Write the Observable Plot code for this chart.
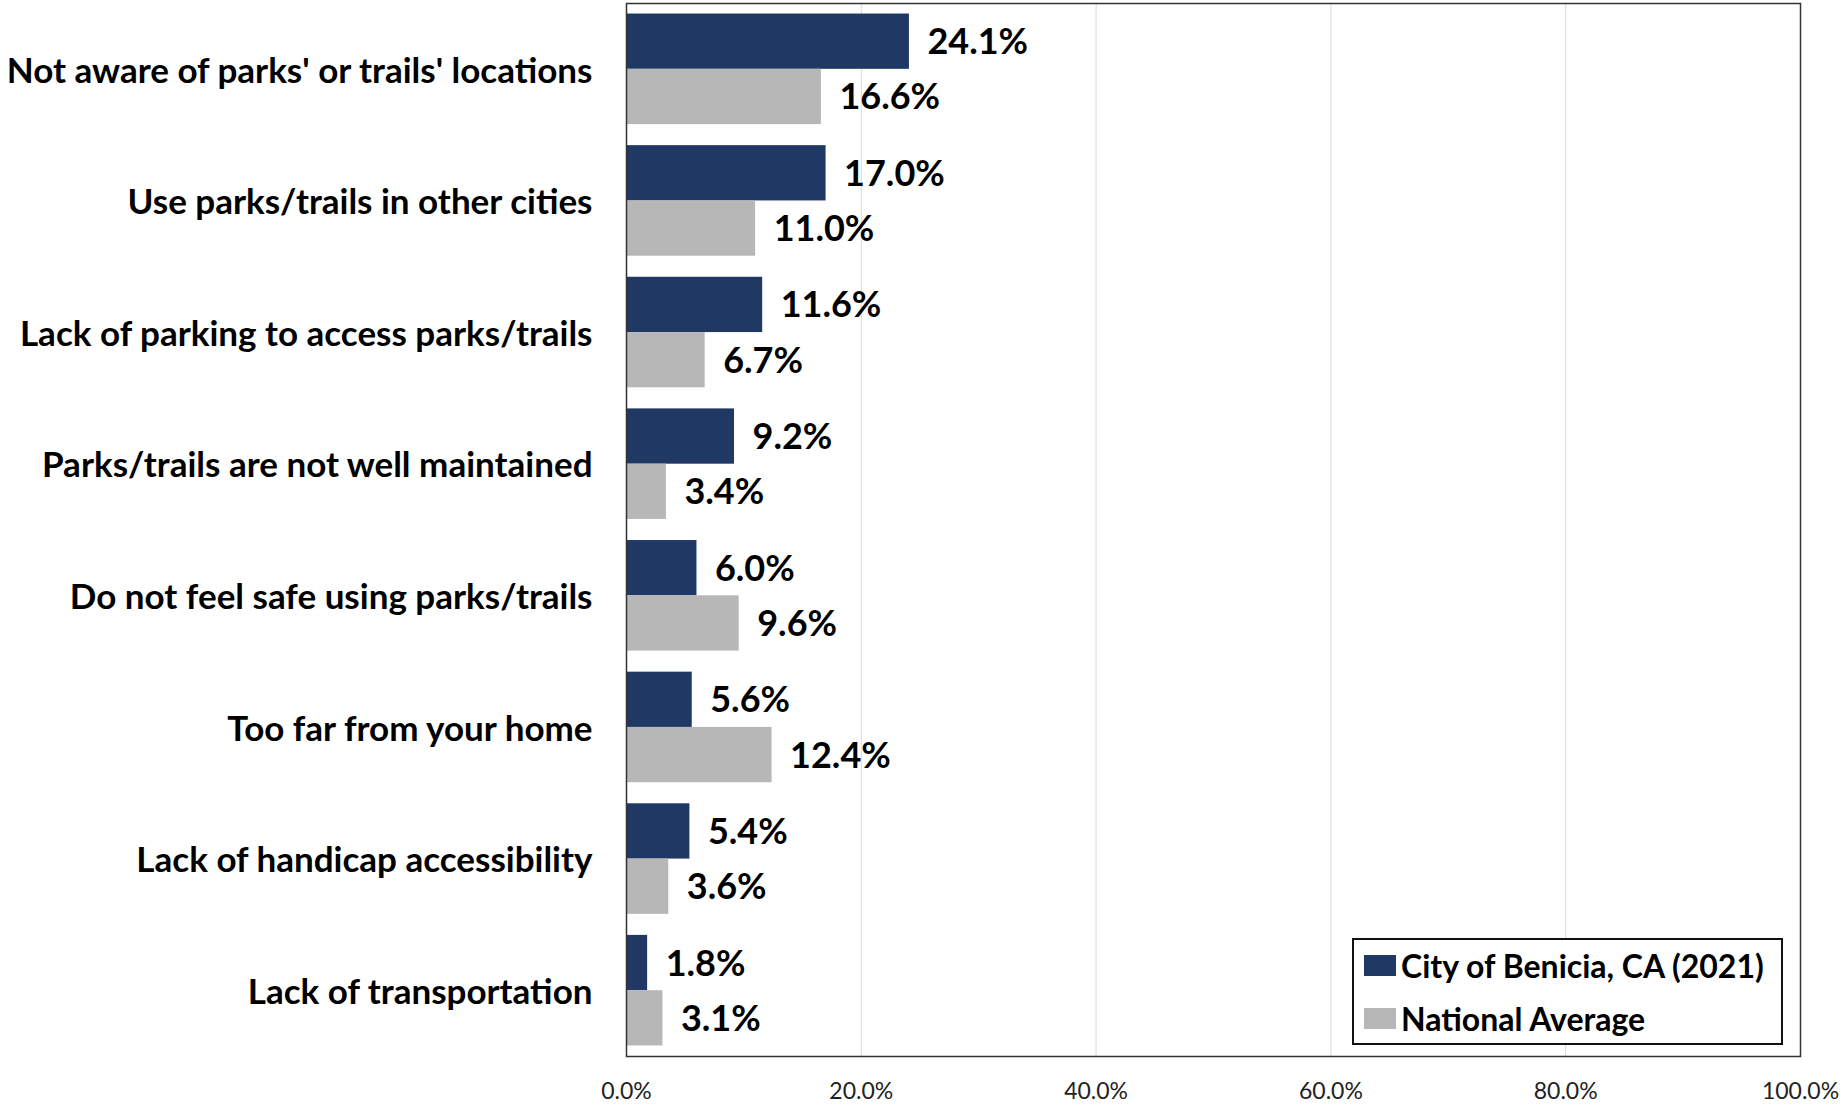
<!DOCTYPE html>
<html>
<head>
<meta charset="utf-8">
<script src="https://cdn.jsdelivr.net/npm/d3@7"></script>
<script src="https://cdn.jsdelivr.net/npm/@observablehq/plot@0.6"></script>
<style>
  html, body { margin: 0; padding: 0; background: #fff; }
  #wrap { position: relative; width: 1843px; height: 1106px; font-family: Lato, "Open Sans", sans-serif; }
  #legend { position: absolute; left: 1352px; top: 938px; width: 427px; height: 103px; border: 2px solid #111; background: #fff; box-sizing: content-box; }
  .row { position: absolute; left: 10px; display: flex; align-items: center; font-weight: bold; font-size: 32px; color: #000; white-space: nowrap; }
  .sw { width: 32px; height: 21px; margin-right: 5px; }
</style>
</head>
<body>
<div id="wrap"></div>
<script>
const categories = [
  "Not aware of parks' or trails' locations",
  "Use parks/trails in other cities",
  "Lack of parking to access parks/trails",
  "Parks/trails are not well maintained",
  "Do not feel safe using parks/trails",
  "Too far from your home",
  "Lack of handicap accessibility",
  "Lack of transportation"
];
const benicia = [24.1, 17.0, 11.6, 9.2, 6.0, 5.6, 5.4, 1.8];
const national = [16.6, 11.0, 6.7, 3.4, 9.6, 12.4, 3.6, 3.1];
const seriesNames = ["City of Benicia, CA (2021)", "National Average"];
const seriesColors = ["#1F3864", "#B7B7B7"];
const xTicks = [0, 20, 40, 60, 80, 100];

const half = 0.42; // half of group thickness in category units
const data = categories.flatMap((c, i) => [
  {idx: i, series: seriesNames[0], value: benicia[i], y1: i - half, y2: i},
  {idx: i, series: seriesNames[1], value: national[i], y1: i, y2: i + half}
]);

const chart = Plot.plot({
  width: 1843,
  height: 1106,
  marginLeft: 626,
  marginRight: 43,
  marginTop: 3,
  marginBottom: 50,
  style: {fontFamily: "Lato, 'Open Sans', sans-serif", background: "#fff", color: "#000"},
  x: {domain: [0, 100], label: null},
  y: {domain: [-0.5, categories.length - 0.5], reverse: true, label: null},
  color: {domain: seriesNames, range: seriesColors},
  marks: [
    Plot.gridX(xTicks, {stroke: "#d9d9d9", strokeOpacity: 1, strokeWidth: 1}),
    Plot.rectX(data, {x1: 0, x2: "value", y1: "y1", y2: "y2", fill: "series"}),
    Plot.text(data, {
      x: "value",
      y: d => (d.y1 + d.y2) / 2,
      text: d => d.value.toFixed(1) + "%",
      textAnchor: "start",
      dx: 18,
      dy: 1,
      fontWeight: "bold",
      fontSize: 36,
      fill: "#000"
    }),
    Plot.frame({stroke: "#333", strokeWidth: 1.5}),
    Plot.axisX(xTicks, {
      tickFormat: d => d.toFixed(1) + "%",
      tickSize: 0,
      tickPadding: 26,
      fontSize: 23,
      fill: "#222",
      label: null
    }),
    Plot.axisY(d3.range(categories.length), {
      tickFormat: i => categories[i],
      tickSize: 0,
      tickPadding: 34,
      fontSize: 35,
      fontWeight: "bold",
      fill: "#000",
      dy: 2,
      label: null
    })
  ]
});

const wrap = document.getElementById("wrap");
wrap.appendChild(chart);

const legend = document.createElement("div");
legend.id = "legend";
seriesNames.forEach((name, i) => {
  const row = document.createElement("div");
  row.className = "row";
  row.style.top = (i === 0 ? 6 : 59) + "px";
  const sw = document.createElement("span");
  sw.className = "sw";
  sw.style.background = seriesColors[i];
  const t = document.createElement("span");
  t.textContent = name;
  row.appendChild(sw);
  row.appendChild(t);
  legend.appendChild(row);
});
wrap.appendChild(legend);
</script>
</body>
</html>
